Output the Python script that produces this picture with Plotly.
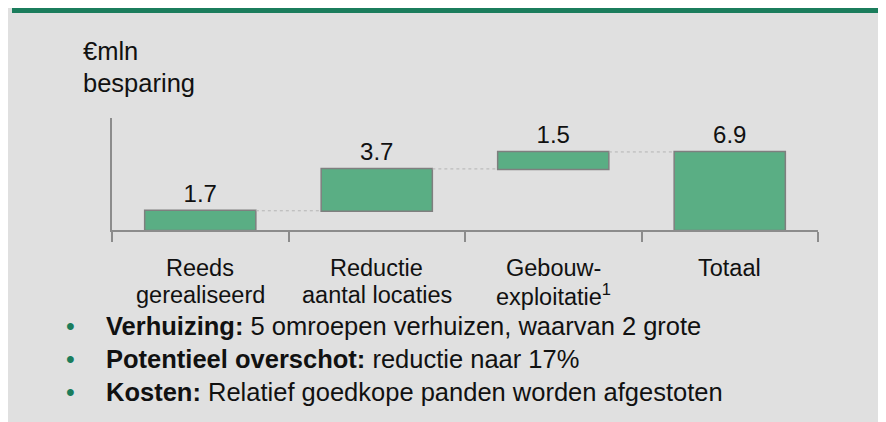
import plotly.graph_objects as go

categories = ["Reeds gerealiseerd", "Reductie aantal locaties", "Gebouw-exploitatie", "Totaal"]
label_line1 = ["Reeds", "Reductie", "Gebouw-", "Totaal"]
label_line2 = ["gerealiseerd", "aantal locaties", "exploitatie<sup>1</sup>", ""]
values = [1.7, 3.7, 1.5, 6.9]
measures = ["relative", "relative", "relative", "total"]
unit_lines = ["€mln", "besparing"]
bullets = [
    ("Verhuizing:", "5 omroepen verhuizen, waarvan 2 grote"),
    ("Potentieel overschot:", "reductie naar 17%"),
    ("Kosten:", "Relatief goedkope panden worden afgestoten"),
]

GREEN = "#1b7d5c"
BAR = "#5aae84"
GRAY = "#8c8c8c"
BG = "#e0e0e0"
FONT = "Liberation Sans, Arial, sans-serif"

# the page puts the figure 8px in from the top-left corner
OFF = 8
W_FIG, H_FIG = 878, 414
L, R, T, B = 104, 68, 110, 192
PW = W_FIG - L - R
PH = H_FIG - T - B
BOTTOM = H_FIG - B


def px(p):
    # screen x -> paper x
    return (p - OFF - L) / PW


def py(p):
    # screen y -> paper y
    return (BOTTOM - (p - OFF)) / PH


fig = go.Figure()
fig.add_trace(go.Waterfall(
    x=categories,
    y=values,
    measure=measures,
    text=[f"{v:.1f}" for v in values],
    textposition="outside",
    textfont=dict(size=24, color="#111111", family=FONT),
    width=0.63,
    increasing=dict(marker=dict(color=BAR, line=dict(color="#7f7f7f", width=1.5))),
    totals=dict(marker=dict(color=BAR, line=dict(color="#7f7f7f", width=1.5))),
    connector=dict(line=dict(color="#b4b4b4", width=1, dash="dot")),
    cliponaxis=False,
    hoverinfo="skip",
))

shapes = [
    dict(type="rect", xref="paper", yref="paper", x0=px(12), x1=px(886 + 20), y0=py(8), y1=py(13),
         fillcolor=GREEN, line_width=0, layer="below"),
    dict(type="rect", xref="paper", yref="paper", x0=px(0), x1=px(8), y0=py(8), y1=py(13),
         fillcolor="white", line_width=0, layer="below"),
]

annotations = []
for i, t in enumerate(unit_lines):
    annotations.append(dict(x=px(81), y=py(51 + 32 * i), xref="paper", yref="paper", text=t,
                            showarrow=False, xanchor="left", yanchor="middle",
                            font=dict(size=25.5, color="#111111", family=FONT)))

for c, l1, l2 in zip(categories, label_line1, label_line2):
    annotations.append(dict(x=c, y=py(268), xref="x", yref="paper", text=l1, showarrow=False,
                            yanchor="middle", font=dict(size=23.5, color="#111111", family=FONT)))
    if l2:
        annotations.append(dict(x=c, y=py(295), xref="x", yref="paper", text=l2, showarrow=False,
                                yanchor="middle", font=dict(size=23.5, color="#111111", family=FONT)))

for i, (head, rest) in enumerate(bullets):
    yy = py(326 + 33 * i)
    annotations.append(dict(x=px(70), y=yy, xref="paper", yref="paper", text="•", showarrow=False,
                            xanchor="center", yanchor="middle",
                            font=dict(size=25, color=GREEN, family=FONT)))
    annotations.append(dict(x=px(104), y=yy, xref="paper", yref="paper",
                            text=f"<b>{head}</b> {rest}", showarrow=False,
                            xanchor="left", yanchor="middle",
                            font=dict(size=25.5, color="#111111", family=FONT)))

fig.update_layout(
    width=W_FIG,
    height=H_FIG,
    margin=dict(l=L, r=R, t=T, b=B),
    paper_bgcolor=BG,
    plot_bgcolor=BG,
    showlegend=False,
    shapes=shapes,
    annotations=annotations,
    font=dict(family=FONT),
)
fig.update_xaxes(
    range=[-0.5, 3.5],
    showline=True, linecolor=GRAY, linewidth=2,
    ticks="outside", tickson="boundaries", ticklen=10, tickcolor=GRAY, tickwidth=2,
    showticklabels=False, showgrid=False, zeroline=False,
)
fig.update_yaxes(
    range=[0, 9.9],
    showline=True, linecolor=GRAY, linewidth=2,
    showticklabels=False, ticks="", showgrid=False, zeroline=False,
)

fig.write_html("out.html")
